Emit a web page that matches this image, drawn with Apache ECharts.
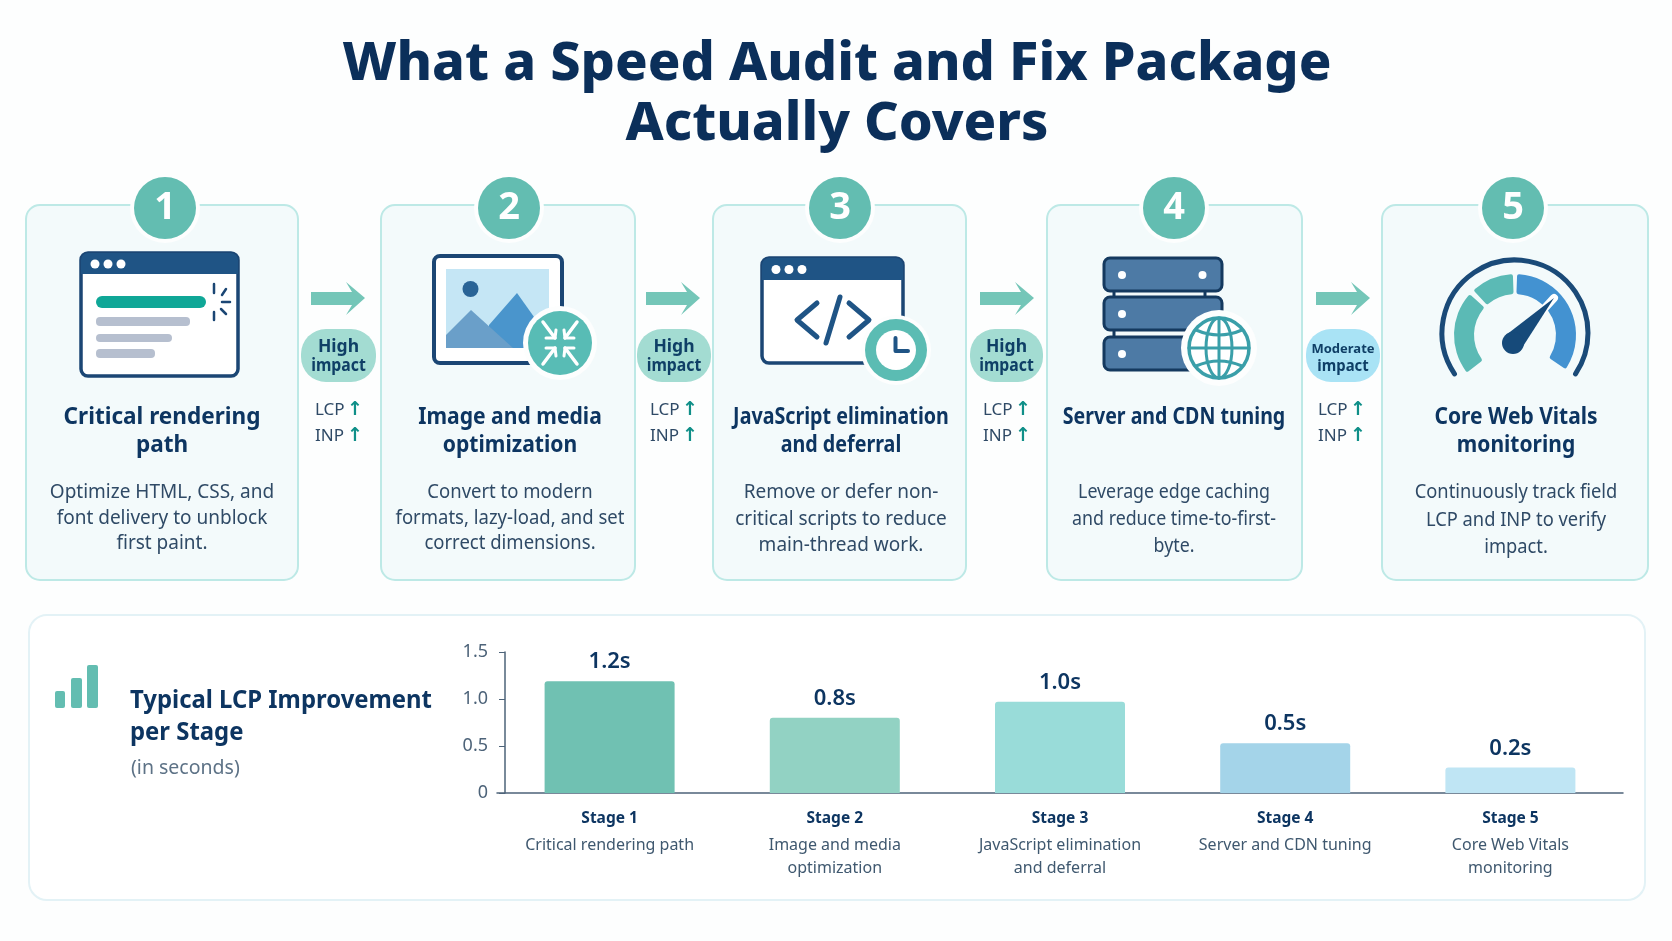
<!DOCTYPE html>
<html>
<head>
<meta charset="utf-8">
<title>Speed Audit</title>
<script src="https://cdn.jsdelivr.net/npm/echarts@6/dist/echarts.min.js"></script>
<style>
  html, body { margin: 0; padding: 0; background: #fdfefe; }
  #main { width: 1672px; height: 941px; }
</style>
</head>
<body>
<div id="main"></div>
<script>
// chart data
var stages = ['Stage 1', 'Stage 2', 'Stage 3', 'Stage 4', 'Stage 5'];
var stageNames = ['Critical rendering path', 'Image and media\noptimization', 'JavaScript elimination\nand deferral', 'Server and CDN tuning', 'Core Web Vitals\nmonitoring'];
var barValues = [1.19, 0.8, 0.97, 0.53, 0.27];
var barLabels = ['1.2s', '0.8s', '1.0s', '0.5s', '0.2s'];
var barColors = ['#70c1b2', '#92d2c3', '#99dcd9', '#a4d4e9', '#bfe5f4'];
var yTicks = { min: 0, max: 1.5, step: 0.5 };

// card text
var cardTitles = [['Critical rendering', 'path'], ['Image and media', 'optimization'], ['JavaScript elimination', 'and deferral'], ['Server and CDN tuning'], ['Core Web Vitals', 'monitoring']];
var cardDescs = [
  ['Optimize HTML, CSS, and', 'font delivery to unblock', 'first paint.'],
  ['Convert to modern', 'formats, lazy-load, and set', 'correct dimensions.'],
  ['Remove or defer non-', 'critical scripts to reduce', 'main-thread work.'],
  ['Leverage edge caching', 'and reduce time-to-first-', 'byte.'],
  ['Continuously track field', 'LCP and INP to verify', 'impact.']
];
var impacts = ['High', 'High', 'High', 'Moderate'];

var NAVY = '#0d3561', SLATE = '#2f4a66', TEAL = '#63bdb1', FONT = '"Noto Sans", sans-serif';

// card boxes: x, width
var cardBox = [[26, 272], [381, 254], [713, 253], [1047, 255], [1382, 266]];
var cardMid = [162, 510, 841, 1174, 1516];
var badgeX = [165, 509, 840, 1174, 1513];
var arrowX = [311, 646, 980, 1316];
var pillBox = [[301, 75], [637, 74], [970, 73], [1306, 74]];
var metricX = [315, 650, 983, 1318];
// the source text is set narrower than Noto Sans
var titleScale = [0.94, 0.88, 0.82, 0.815, 0.875];
var descScale = [0.95, 0.925, 0.95, 0.89, 0.915];
var descStep = [25.5, 25.5, 26.5, 27, 27.5];

var g = [];
function rad(d) { return d * Math.PI / 180; }
function txt(s, x, y, size, weight, color, align, sx, family) {
  g.push({ type: 'text', x: x, y: y, scaleX: sx || 1, style: { text: s, x: 0, y: 0, textAlign: align || 'center', textVerticalAlign: 'middle',
    fontSize: size, fontWeight: weight, fontFamily: family || FONT, fill: color } });
}
function rect(x, y, w, h, r, fill, stroke, lw) {
  g.push({ type: 'rect', shape: { x: x, y: y, width: w, height: h, r: r }, style: { fill: fill || 'transparent', stroke: stroke || null, lineWidth: lw || 0 } });
}
function circle(x, y, r, fill, stroke, lw) {
  g.push({ type: 'circle', shape: { cx: x, cy: y, r: r }, style: { fill: fill || 'transparent', stroke: stroke || null, lineWidth: lw || 0 } });
}
function line(pts, color, lw) {
  g.push({ type: 'polyline', shape: { points: pts }, style: { fill: 'none', stroke: color, lineWidth: lw, lineCap: 'round', lineJoin: 'round' } });
}
function poly(pts, fill) {
  g.push({ type: 'polygon', shape: { points: pts }, style: { fill: fill } });
}
function windowFrame(x, y, w, h, headH, dots) {
  rect(x, y, w, h, 7, '#ffffff', '#1b4674', 3.5);
  rect(x, y, w, headH, [7, 7, 0, 0], '#1f5485');
  dots.forEach(function (d) { circle(d, y + headH / 2 + 0.5, 4.5, '#ffffff'); });
}

// cards, badges
cardBox.forEach(function (b, i) {
  rect(b[0], 205, b[1], 375, 14, '#f3fafb', '#bde9e6', 2);
  circle(badgeX[i], 208, 35, '#fdfefe');
  circle(badgeX[i], 208, 31, TEAL);
  txt(String(i + 1), badgeX[i], 208, 38, 700, '#ffffff');
  cardTitles[i].forEach(function (t, k) { txt(t, cardMid[i], 417 + k * 28.5, 24, 700, NAVY, 'center', titleScale[i]); });
  cardDescs[i].forEach(function (t, k) { txt(t, cardMid[i], 492.5 + k * descStep[i], 20, 400, SLATE, 'center', descScale[i]); });
});

// arrows, pills, LCP/INP
arrowX.forEach(function (x, i) {
  poly([[x, 292], [x + 41, 292], [x + 35, 282], [x + 54, 298], [x + 35, 315], [x + 41, 305], [x, 305]], '#74c6b8');
  var mod = impacts[i] === 'Moderate';
  rect(pillBox[i][0], 329, pillBox[i][1], 53, 25, mod ? '#a9e3f5' : '#a3dcd2');
  var c = pillBox[i][0] + pillBox[i][1] / 2;
  txt(impacts[i], c, mod ? 349 : 347.5, mod ? 13 : 17.5, 700, '#0f3f66');
  txt('impact', c, 366, mod ? 16 : 17, 700, '#0f3f66', 'center', 0.93);
  txt('LCP', metricX[i], 410, 17, 400, SLATE, 'left');
  txt('INP', metricX[i], 436, 17, 400, SLATE, 'left');
  txt('↑', metricX[i] + 40, 410, 19, 700, '#0f8f88', 'center', 1, 'DejaVu Sans');
  txt('↑', metricX[i] + 40, 436, 19, 700, '#0f8f88', 'center', 1, 'DejaVu Sans');
});

// icon 1, browser
windowFrame(81, 253, 157, 123, 21, [95, 108, 121]);
rect(96, 296, 110, 12, 6, '#0fa797');
rect(96, 317, 94, 9, 4, '#b6bfcf');
rect(96, 334, 76, 8, 4, '#b6bfcf');
rect(96, 349, 59, 9, 4, '#b6bfcf');
[[[214, 284], [214, 293]], [[222, 295], [226, 289]], [[222, 302], [230, 302]], [[221, 309], [226, 314]], [[214, 312], [214, 320]]].forEach(function (p) { line(p, '#1b4674', 2.5); });

// icon 2, image
rect(434, 256, 128, 107, 6, '#ffffff', '#1b4674', 4);
rect(446, 269, 103, 79, 0, '#c5e6f5');
circle(470.5, 289, 8, '#2a6496');
poly([[517, 293], [549, 338], [549, 348], [489, 348], [489, 325]], '#4a95cc');
poly([[471, 310], [513, 348], [446, 348], [446, 335]], '#6a9fc9');
circle(560, 343, 37, '#fdfefe');
circle(560, 343, 32, '#58bcb5');
[[-1, -1], [1, -1], [-1, 1], [1, 1]].forEach(function (s) {
  var cx = 560, cy = 343;
  line([[cx + s[0] * 17, cy + s[1] * 21], [cx + s[0] * 5, cy + s[1] * 5]], '#ffffff', 3.5);
  line([[cx + s[0] * 4, cy + s[1] * 13], [cx + s[0] * 5, cy + s[1] * 5], [cx + s[0] * 14, cy + s[1] * 5]], '#ffffff', 3);
});

// icon 3, code window
windowFrame(762, 258, 141, 105, 22, [776, 789, 802]);
line([[817, 303], [797, 320], [817, 337]], '#1f5485', 5);
line([[840, 297], [826, 343]], '#1f5485', 5);
line([[849, 303], [869, 320], [849, 337]], '#1f5485', 5);
circle(896, 350, 35, '#fdfefe');
circle(896, 350, 31, '#5bbcb3');
circle(896, 350, 20, '#ffffff');
line([[895.5, 338], [895.5, 351], [908, 351]], '#1f5485', 4);

// icon 4, server + globe
line([[1114, 291], [1114, 297]], '#14395f', 3);
line([[1205, 291], [1205, 297]], '#14395f', 3);
line([[1114, 331], [1114, 337]], '#14395f', 3);
[258, 297, 337].forEach(function (y) {
  rect(1104, y, 118, 33, 6, '#4d7aa5', '#14395f', 3);
  circle(1122, y + 17, 4, '#ffffff');
});
circle(1202.5, 275, 4, '#ffffff');
circle(1219, 348, 38, '#fdfefe');
circle(1219, 348, 30, '#ffffff', '#3a9fa9', 3.5);
g.push({ type: 'ellipse', shape: { cx: 1219, cy: 348, rx: 13, ry: 30 }, style: { fill: 'none', stroke: '#3a9fa9', lineWidth: 3 } });
line([[1219, 318], [1219, 378]], '#3a9fa9', 3);
line([[1189, 348], [1249, 348]], '#3a9fa9', 3);
g.push({ type: 'bezierCurve', shape: { x1: 1196, y1: 330, cpx1: 1219, cpy1: 340, x2: 1242, y2: 330 }, style: { fill: 'none', stroke: '#3a9fa9', lineWidth: 3 } });
g.push({ type: 'bezierCurve', shape: { x1: 1196, y1: 366, cpx1: 1219, cpy1: 356, x2: 1242, y2: 366 }, style: { fill: 'none', stroke: '#3a9fa9', lineWidth: 3 } });

// icon 5, gauge
g.push({ type: 'arc', shape: { cx: 1515, cy: 333, r: 73, startAngle: rad(146), endAngle: rad(34), clockwise: true }, style: { fill: 'none', stroke: '#1a4a78', lineWidth: 5, lineCap: 'round' } });
[[142, 222, '#5bbab5'], [227, 268, '#5bbab5'], [272, 394, '#4392d1']].forEach(function (a) {
  g.push({ type: 'sector', shape: { cx: 1515, cy: 335, r: 61, r0: 41, startAngle: rad(a[0]), endAngle: rad(a[1]), clockwise: true, cornerRadius: 2 }, style: { fill: a[2] } });
});
line([[1513, 343], [1554, 298]], '#ffffff', 8);
poly([[1506, 335], [1554, 298], [1520, 351]], '#164a7a');
circle(1513, 343, 11, '#164a7a');

// bottom panel
rect(29, 615, 1616, 285, 18, '#ffffff', '#e3f2f6', 2);
rect(55, 691, 10, 17, 2, TEAL);
rect(71, 678, 11, 30, 2, TEAL);
rect(87, 665, 11, 43, 2, TEAL);
txt('Typical LCP Improvement', 130, 701, 25, 700, NAVY, 'left', 0.955);
txt('per Stage', 130, 733, 25, 700, NAVY, 'left', 0.955);
txt('(in seconds)', 131, 768, 19.5, 400, '#5d7286', 'left');

var myChart = echarts.init(document.getElementById('main'));
myChart.setOption({
  animation: false,
  backgroundColor: '#fdfefe',
  title: {
    text: 'What a Speed Audit and Fix Package\nActually Covers',
    left: 832, top: 30,
    textAlign: 'center',
    textStyle: { fontFamily: FONT, fontSize: 54, fontWeight: 800, color: '#0b2f5a', lineHeight: 60 }
  },
  grid: { left: 497, right: 49, top: 652, height: 141 },
  xAxis: {
    type: 'category',
    data: stages,
    axisLine: { lineStyle: { color: '#4d6379', width: 1.5 } },
    axisTick: { show: false },
    axisLabel: {
      margin: 11,
      interval: 0,
      lineHeight: 23,
      verticalAlign: 'top',
      formatter: function (v, i) { return '{s|' + v + '}\n' + stageNames[i].split('\n').map(function (l) { return '{d|' + l + '}'; }).join('\n'); },
      rich: {
        s: { fontFamily: FONT, fontSize: 15.5, fontWeight: 700, color: NAVY, lineHeight: 30 },
        d: { fontFamily: FONT, fontSize: 16, color: '#3f586f', lineHeight: 23 }
      }
    }
  },
  yAxis: {
    type: 'value',
    min: yTicks.min, max: yTicks.max, interval: yTicks.step,
    offset: -8,
    splitLine: { show: false },
    axisLine: { show: true, lineStyle: { color: '#4d6379', width: 1.5 } },
    axisTick: { show: true, length: 6, lineStyle: { color: '#4d6379' } },
    axisLabel: {
      fontFamily: FONT, fontSize: 18, color: '#4d6379', margin: 17,
      formatter: function (v) { return v === 0 ? '0' : v.toFixed(1); }
    }
  },
  series: [{
    type: 'bar',
    barWidth: 130,
    data: barValues.map(function (v, i) {
      return { value: v, itemStyle: { color: barColors[i], borderRadius: [3, 3, 0, 0] } };
    }),
    label: {
      show: true, position: 'top', distance: 8,
      fontFamily: FONT, fontSize: 22, fontWeight: 600, color: NAVY,
      formatter: function (p) { return barLabels[p.dataIndex]; }
    }
  }],
  graphic: { elements: g.map(function (e) { e.z = -1; return e; }) }
});
</script>
</body>
</html>
